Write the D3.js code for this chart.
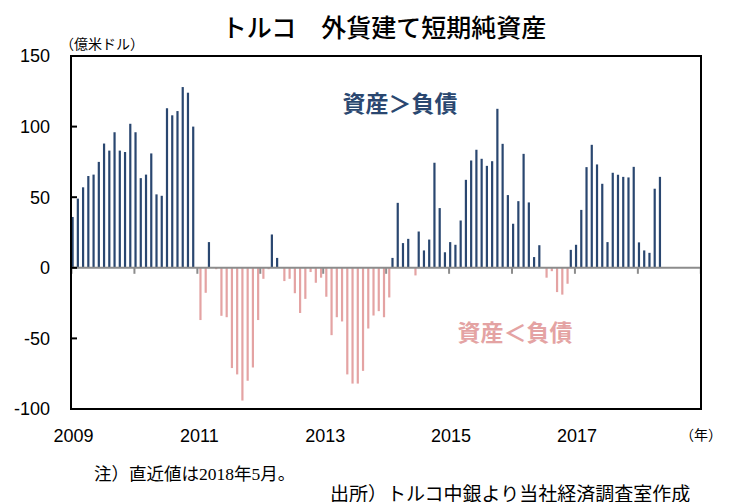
<!DOCTYPE html>
<html>
<head>
  <meta charset="utf8">
  <script src="https://d3js.org/d3.v7.min.js"></script>
  <style>
    body { margin: 0; background: #fff; }
    text { font-family: "Noto Sans CJK JP", sans-serif; fill: #000; }
    .num { font-family: "Liberation Sans", Arial, sans-serif; font-size: 18px; }
    .serif { font-family: "Liberation Serif", serif; }
  </style>
</head>
<body>
  <svg id="chart" width="729" height="502"></svg>
  <script>
    // monthly values, 2009/01 .. 2018/05 (100 million USD)
    var startYear = 2009;
    var values = [
      36, 49, 57, 65, 66, 75, 88, 83, 96, 83, 82, 102,
      96, 63.5, 66, 81, 52, 51, 113, 108, 111, 128, 124, 100,
      -37, -17.7, 18.2, -1, -34, -35, -71, -75.5, -94, -80, -70.6, -37,
      -7.8, -1, 23.6, 7, -9.4, -7.8, -18, -32, -22, -3, -10.6, -7,
      -20.5, -47.7, -35, -38, -75.5, -82, -82, -73, -43, -33.8, -30.7, -35,
      -21, 7, 46, 17.5, 20.5, -5.4, 25.7, 12.3, 20, 74.4, 42.3, 11,
      18.2, 16.3, 33.5, 62.3, 76, 83.6, 77.2, 72.2, 75.5, 112.6, 87.8, 51.5,
      31.2, 47.2, 80.7, 46.3, 7.6, 16, -7, -2.4, -17.2, -19, -11.3, 12.7,
      16.3, 41, 71.3, 87.1, 73.2, 59.5, 18.2, 67.3, 65.9, 64.4, 64, 71.5,
      18, 12.3, 10.6, 56, 64.4
    ];
    var yTicks = [150, 100, 50, 0, -50, -100];
    var yearLabels = [2009, 2011, 2013, 2015, 2017];
    var yearTicks = d3.range(2009, 2020);

    var svg = d3.select('#chart');
    var plot = { left: 71, right: 701, top: 56, bottom: 409 };

    var x = d3.scaleLinear().domain([0, 120]).range([71.5, 700.8]);
    var y = d3.scaleLinear().domain([-100, 150]).range([plot.bottom, plot.top]);

    // bars
    svg.selectAll('.bar')
      .data(values)
      .enter()
      .append('rect')
      .attr('x', (d, i) => d >= 0 ? x(i) : x(i) + 2)
      .attr('width', 2.2)
      .attr('y', (d) => d >= 0 ? y(d) : y(0))
      .attr('height', (d) => Math.abs(y(d) - y(0)))
      .attr('fill', (d) => d >= 0 ? '#2a4770' : '#e4a3a3');

    // zero line + year ticks
    svg.append('line')
      .attr('x1', plot.left).attr('x2', plot.right)
      .attr('y1', y(0)).attr('y2', y(0))
      .attr('stroke', '#8c8c8c').attr('stroke-width', 2);

    svg.selectAll('.year-tick')
      .data(yearTicks)
      .enter()
      .append('line')
      .attr('x1', (d) => x((d - startYear) * 12))
      .attr('x2', (d) => x((d - startYear) * 12))
      .attr('y1', y(0)).attr('y2', y(0) + 6)
      .attr('stroke', '#8c8c8c').attr('stroke-width', 2);

    // frame
    svg.append('rect')
      .attr('x', plot.left).attr('y', plot.top)
      .attr('width', plot.right - plot.left).attr('height', plot.bottom - plot.top)
      .attr('fill', 'none').attr('stroke', '#000').attr('stroke-width', 2);

    // y ticks (inward) and labels
    svg.selectAll('.ytick')
      .data(yTicks)
      .enter()
      .append('line')
      .attr('x1', plot.left).attr('x2', plot.left + 6)
      .attr('y1', (d) => y(d)).attr('y2', (d) => y(d))
      .attr('stroke', '#000').attr('stroke-width', 2);

    svg.selectAll('.ylabel')
      .data(yTicks)
      .enter()
      .append('text')
      .attr('class', 'num')
      .attr('x', 50)
      .attr('y', (d) => y(d))
      .attr('dy', '0.36em')
      .attr('text-anchor', 'end')
      .text((d) => d);

    svg.selectAll('.xlabel')
      .data(yearLabels)
      .enter()
      .append('text')
      .attr('class', 'num')
      .attr('x', (d) => x((d - startYear) * 12) + 2)
      .attr('y', 442)
      .attr('text-anchor', 'middle')
      .text((d) => d);

    svg.append('text')
      .attr('x', 701).attr('y', 440)
      .attr('text-anchor', 'middle')
      .style('font-size', '14px')
      .text('（年）');

    svg.append('text')
      .attr('x', 102).attr('y', 49)
      .attr('text-anchor', 'middle')
      .style('font-size', '14px')
      .text('（億米ドル）');

    // title
    svg.append('text')
      .attr('x', 384).attr('y', 37)
      .attr('text-anchor', 'middle')
      .style('font-size', '25px')
      .style('font-weight', 500)
      .text('トルコ　外貨建て短期純資産');

    // annotations
    svg.append('text')
      .attr('x', 400).attr('y', 112)
      .attr('text-anchor', 'middle')
      .style('font-size', '23px').style('font-weight', 'bold')
      .style('fill', '#2a4770')
      .text('資産＞負債');

    svg.append('text')
      .attr('x', 515).attr('y', 341)
      .attr('text-anchor', 'middle')
      .style('font-size', '23px').style('font-weight', 'bold')
      .style('fill', '#e4a3a3')
      .text('資産＜負債');

    // notes
    var note = svg.append('text')
      .attr('x', 94).attr('y', 480)
      .style('font-size', '17.5px');
    note.append('tspan').text('注）直近値は');
    note.append('tspan').attr('class', 'serif').text('2018');
    note.append('tspan').text('年');
    note.append('tspan').attr('class', 'serif').text('5');
    note.append('tspan').text('月。');

    svg.append('text')
      .attr('x', 330).attr('y', 501)
      .style('font-size', '19px')
      .text('出所）トルコ中銀より当社経済調査室作成');
  </script>
</body>
</html>
